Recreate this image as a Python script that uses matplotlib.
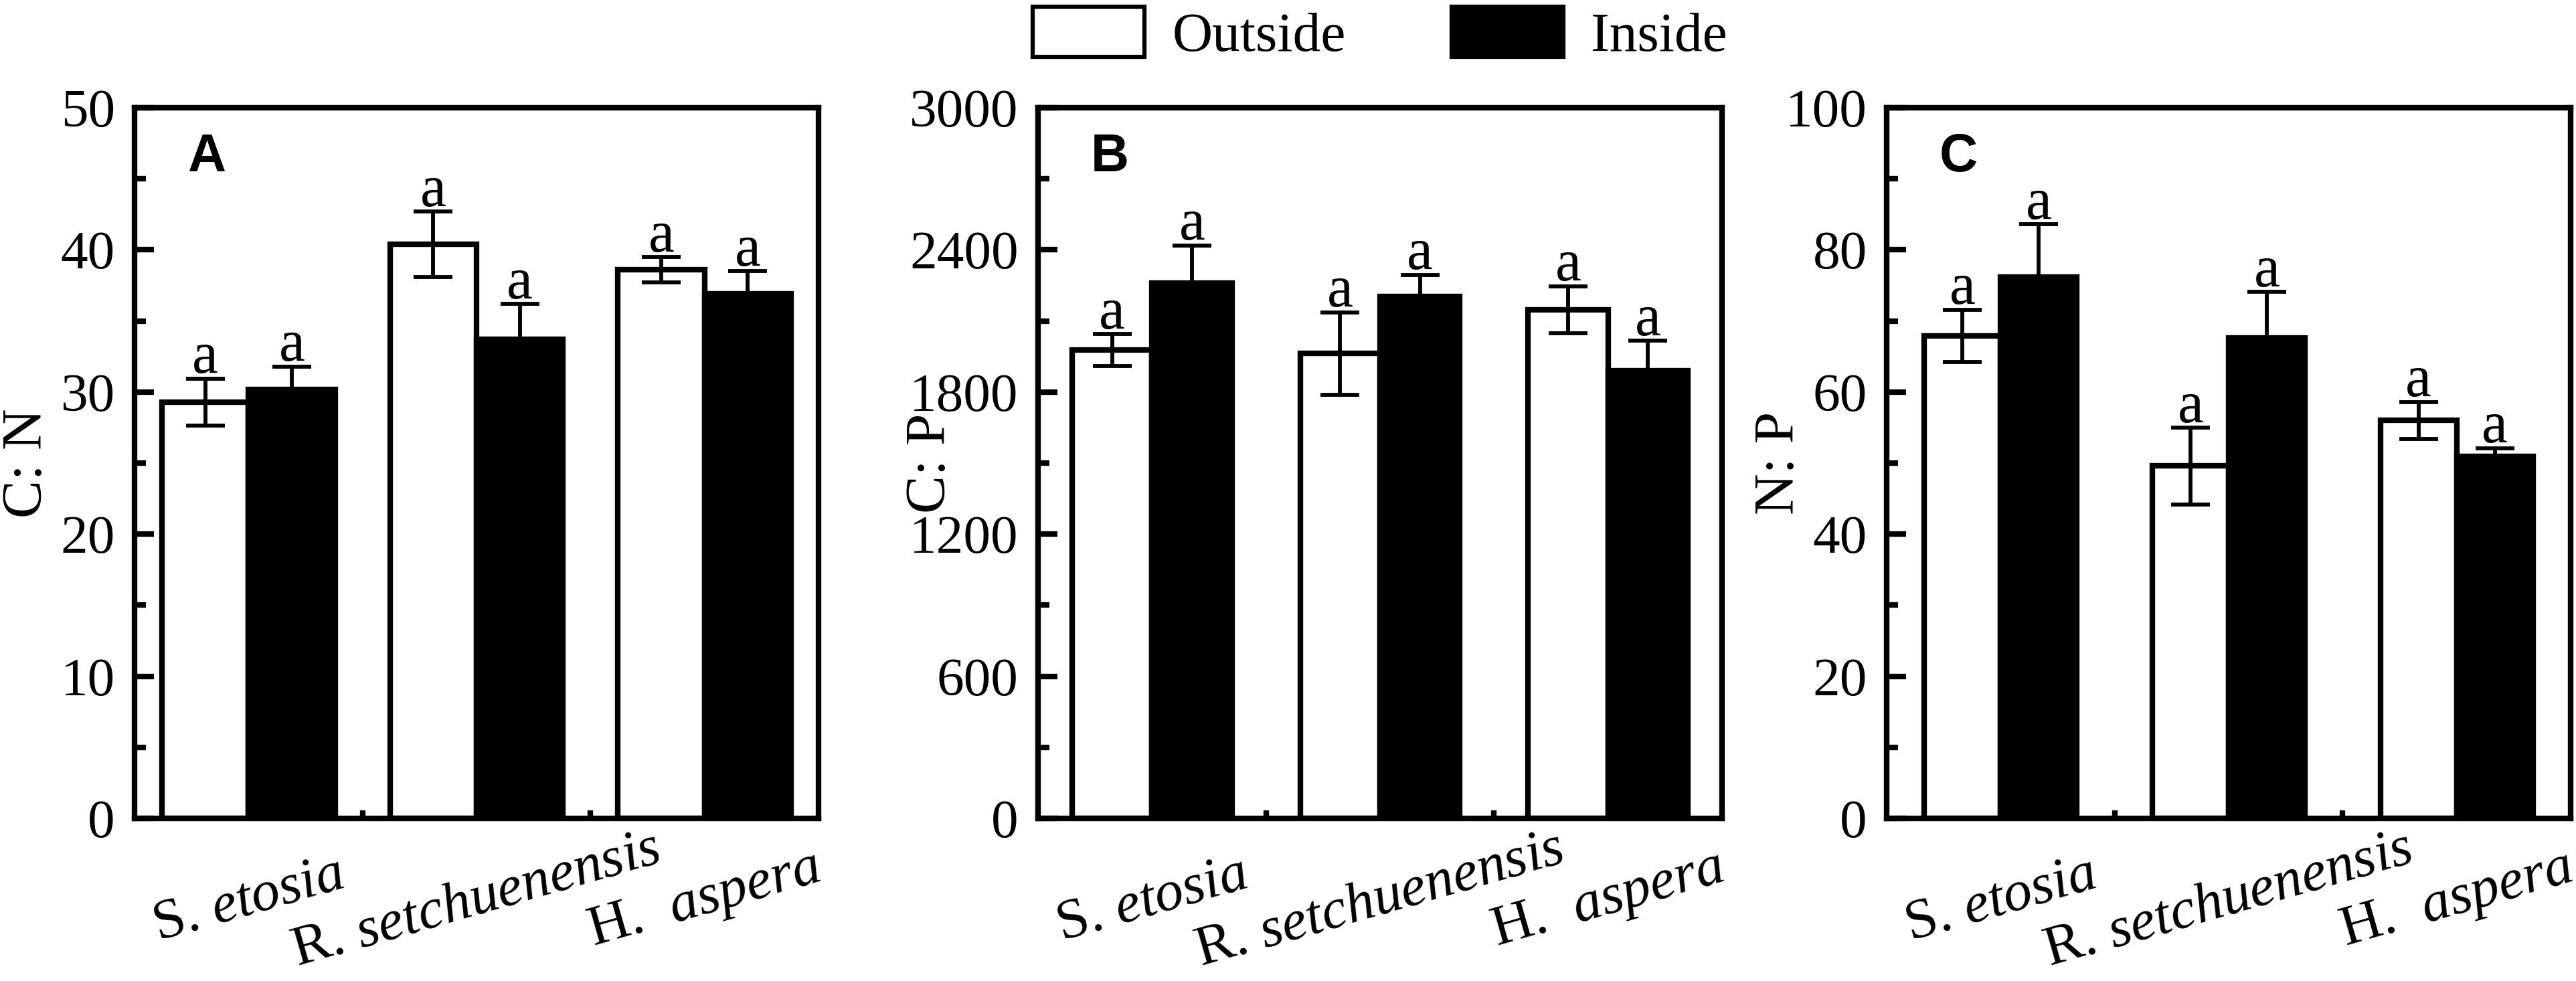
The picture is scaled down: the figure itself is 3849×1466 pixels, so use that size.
import numpy as np
import matplotlib
matplotlib.use("Agg")
import matplotlib.pyplot as plt
from matplotlib.patches import Patch
from matplotlib.ticker import MultipleLocator

plt.rcParams['font.family'] = ['Liberation Serif', 'DejaVu Serif']
plt.rcParams['mathtext.fontset'] = 'custom'
plt.rcParams['mathtext.rm'] = 'Liberation Serif'
plt.rcParams['mathtext.it'] = 'Liberation Serif:italic'

# species on the x axis (genus initial upright, epithet italic)
species = [r"S. $\mathit{etosia}$", r"R. $\mathit{setchuenensis}$", r"H.  $\mathit{aspera}$"]

# C:N
cn_out = [29.3, 40.4, 38.6]
cn_out_err = [1.65, 2.3, 0.9]
cn_in = [30.2, 33.7, 36.9]
cn_in_err = [1.6, 2.5, 1.6]

# C:P
cp_out = [1978, 1962, 2147]
cp_out_err = [67, 175, 100]
cp_in = [2260, 2202, 1891]
cp_in_err = [159, 93, 126]

# N:P
np_out = [67.9, 49.6, 56.0]
np_out_err = [3.7, 5.4, 2.6]
np_in = [76.2, 67.6, 50.9]
np_in_err = [7.4, 6.5, 1.2]

letters_out = ["a", "a", "a"]
letters_in = ["a", "a", "a"]

W, H = 3849, 1466
fig = plt.figure(figsize=(W / 300, H / 300), dpi=300)

ax_bottom = 1 - 1223 / H
ax_height = 1062 / H
ax_width = 1022 / W
lefts = [201 / W, 1551 / W, 2819 / W]

err_kw = dict(ecolor='black', elinewidth=1.4, capsize=7, capthick=1.4, zorder=4)


def draw_panel(ax, out, out_err, inside, inside_err, ymax, step, ylabel, letter, width):
    x = np.arange(len(species))
    ax.bar(x - width / 2, out, width, color='white', edgecolor='black',
           linewidth=2, yerr=out_err, error_kw=err_kw, zorder=2)
    ax.bar(x + width / 2, inside, width, color='black', edgecolor='black',
           linewidth=2, yerr=inside_err, error_kw=err_kw, zorder=3)

    for xi, v, e, t in zip(x - width / 2, out, out_err, letters_out):
        ax.annotate(t, (xi, v + e), xytext=(0, 2), textcoords='offset points',
                    ha='center', va='baseline', fontsize=21)
    for xi, v, e, t in zip(x + width / 2, inside, inside_err, letters_in):
        ax.annotate(t, (xi, v + e), xytext=(0, 2), textcoords='offset points',
                    ha='center', va='baseline', fontsize=21)

    ax.set_xlim(-0.5, 2.5)
    ax.set_ylim(0, ymax)
    ax.set_yticks(np.arange(0, ymax + step / 2, step))
    ax.yaxis.set_minor_locator(MultipleLocator(step / 2))
    ax.tick_params(axis='y', which='major', direction='in', length=7, width=2,
                   labelsize=19.5, pad=7, right=False)
    ax.tick_params(axis='y', which='minor', direction='in', length=4, width=2, right=False)

    ax.set_xticks(x)
    ax.set_xticklabels(species, rotation=16, ha='center', va='center',
                       rotation_mode='anchor', fontsize=20.5)
    ax.set_xticks(x[:-1] + 0.5, minor=True)
    ax.tick_params(axis='x', which='major', length=0, pad=29.5)
    ax.tick_params(axis='x', which='minor', direction='in', length=3, width=2, top=False)

    for s in ax.spines.values():
        s.set_linewidth(2)

    ax.set_ylabel(ylabel, fontsize=20.5)
    ax.yaxis.set_label_coords(-0.118, 0.5)
    ax.text(0.105, 0.93, letter, transform=ax.transAxes, ha='center', va='center',
            fontsize=19, fontweight='bold', family='Liberation Sans')


panels = [
    (cn_out, cn_out_err, cn_in, cn_in_err, 50, 10, "C: N", "A", 0.38),
    (cp_out, cp_out_err, cp_in, cp_in_err, 3000, 600, "C: P", "B", 0.35),
    (np_out, np_out_err, np_in, np_in_err, 100, 20, "N: P", "C", 0.335),
]

for left, p in zip(lefts, panels):
    ax = fig.add_axes([left, ax_bottom, ax_width, ax_height])
    draw_panel(ax, *p)

handles = [
    Patch(facecolor='white', edgecolor='black', linewidth=1.5, label='Outside'),
    Patch(facecolor='black', edgecolor='black', linewidth=1.5, label='Inside'),
]
fig.legend(handles=handles, loc='center', bbox_to_anchor=(0.5357, 0.9645), ncol=2,
           frameon=False, fontsize=20, handlelength=2.0, handleheight=1.0,
           handletextpad=0.5, columnspacing=1.9, borderpad=0, borderaxespad=0)

fig.savefig('out.png', dpi=300)
